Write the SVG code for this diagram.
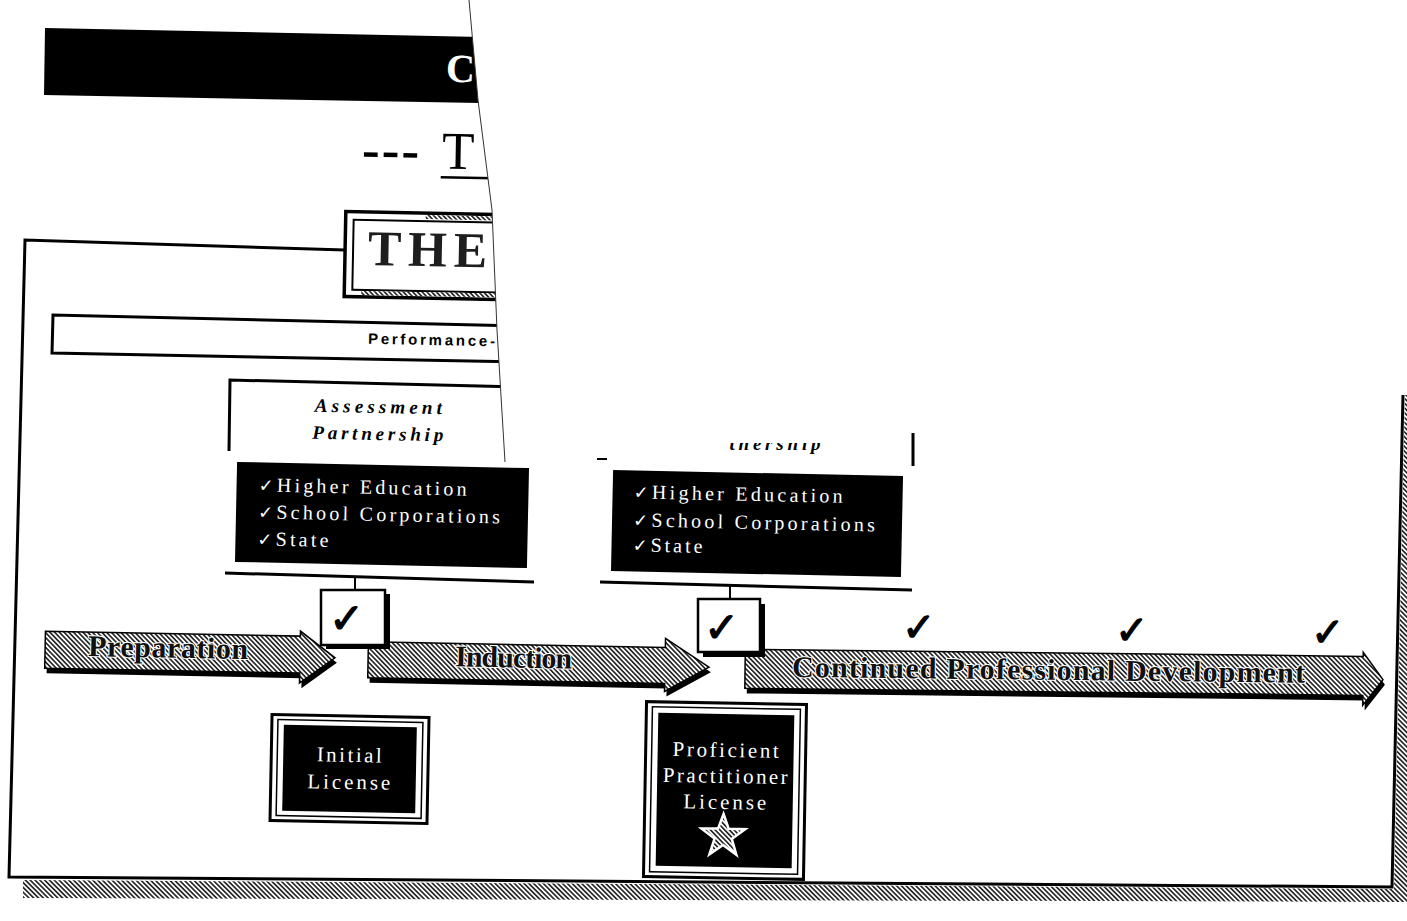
<svg xmlns="http://www.w3.org/2000/svg" width="1407" height="921" viewBox="0 0 1407 921">
<defs>
<style>
.ser{font-family:"Liberation Serif","Times New Roman",serif}
.sans{font-family:"Liberation Sans",Arial,sans-serif}
.ck{font-family:"DejaVu Sans",sans-serif}
.bigck{font-family:"DejaVu Sans",sans-serif;fill:#000;stroke:#000;stroke-width:1.2}
.ln{fill:none;stroke:#000;stroke-width:3}
.arrowtxt{font-family:"Liberation Serif","Times New Roman",serif;font-weight:bold;font-size:30px;fill:#111;stroke:#fff;stroke-width:2;paint-order:stroke}
.list{font-family:"Liberation Serif","Times New Roman",serif;font-size:20px;fill:#fff}
.lic{font-family:"Liberation Serif","Times New Roman",serif;font-size:21px;fill:#fff;text-anchor:middle}
.shadow{fill:#000}
.face{fill:url(#hatch);stroke:#000;stroke-width:1.5}
</style>
<pattern id="hatch" width="3.4" height="3.4" patternUnits="userSpaceOnUse" patternTransform="rotate(-45)"><rect width="3.4" height="3.4" fill="#fff"/><rect width="1.7" height="3.4" fill="#2a2a2a"/></pattern>
<clipPath id="vis"><polygon points="0,0 469,0 478,100 492,210 497,330 505,458 1407,392 1407,921 0,921"/></clipPath>
<clipPath id="frag"><rect x="726" y="443" width="110" height="20"/></clipPath>
</defs>
<rect width="1407" height="921" fill="#fff"/>
<g clip-path="url(#vis)">
  <g id="frame">
    <polygon points="23,880 1394,889 1405,395 1407,395 1407,902 23,898" fill="url(#hatch)"/>
    <path class="ln" d="M345,250 L25,240 L9,877 L1392,887 L1403,395" stroke-width="3.5"/>
  </g>
  <g id="title-bar">
    <polygon points="45,28 530,38 531,104 44,95" fill="#000"/>
    <text class="ser" x="446" y="82" font-size="40" font-weight="bold" fill="#fff" transform="rotate(1.2 460 70)">C</text>
  </g>
  <g id="subtitle" transform="rotate(1 420 160)">
    <text class="ser" x="362" y="168" font-size="53"><tspan font-weight="bold" letter-spacing="2">---</tspan><tspan x="442">T</tspan></text>
    <line x1="441" y1="177" x2="520" y2="177" stroke="#000" stroke-width="2.5"/>
  </g>
  <g id="the-box" transform="rotate(1.1 420 255)">
    <rect x="345" y="213" width="230" height="85" fill="#fff" stroke="#000" stroke-width="3.5"/>
    <rect x="353" y="221" width="215" height="70" fill="none" stroke="#000" stroke-width="2"/>
    <rect x="425" y="215" width="70" height="4" fill="url(#hatch)"/>
    <rect x="362" y="292" width="140" height="4" fill="url(#hatch)"/>
    <text class="ser" x="368" y="266" font-size="50" font-weight="bold" fill="#1e1e1e" textLength="119">THE</text>
  </g>
  <g id="performance-bar">
    <path class="ln" d="M520,326 L53,315 L52,353 L520,362" stroke-width="2.5"/>
    <text class="sans" x="368" y="345" font-size="15" font-weight="bold" textLength="127" transform="rotate(1.1 430 340)">Performance-</text>
  </g>
  <g id="assessment-1">
    <path class="ln" d="M229,451 L230,380 L520,387" stroke-width="2.5"/>
    <g transform="rotate(1.1 378 425)" class="ser" font-weight="bold" font-style="italic" font-size="19" text-anchor="middle">
      <text x="378" y="413" textLength="127">Assessment</text>
      <text x="378" y="440" textLength="131">Partnership</text>
    </g>
  </g>
  <g id="assessment-2">
    <line x1="597" y1="459" x2="607" y2="459" stroke="#000" stroke-width="2"/>
    <line x1="913" y1="433" x2="913" y2="466" stroke="#000" stroke-width="3"/>
    <text class="ser" x="755" y="450" font-size="19" font-weight="bold" font-style="italic" text-anchor="middle" textLength="131" clip-path="url(#frag)">Partnership</text>
  </g>
  <g id="list-1" transform="rotate(1.2 382 515)">
    <rect x="236" y="465" width="292" height="100" fill="#000"/>
    <text class="list" x="258" y="494" textLength="208"><tspan class="ck" font-size="18">✓</tspan>Higher Education</text>
    <text class="list" x="258" y="521" textLength="242"><tspan class="ck" font-size="18">✓</tspan>School Corporations</text>
    <text class="list" x="258" y="548" textLength="71"><tspan class="ck" font-size="18">✓</tspan>State</text>
  </g>
  <g id="list-2" transform="rotate(1.2 757 524)">
    <rect x="612" y="473" width="290" height="101" fill="#000"/>
    <text class="list" x="633" y="501" textLength="209"><tspan class="ck" font-size="18">✓</tspan>Higher Education</text>
    <text class="list" x="633" y="529" textLength="242"><tspan class="ck" font-size="18">✓</tspan>School Corporations</text>
    <text class="list" x="633" y="554" textLength="70"><tspan class="ck" font-size="18">✓</tspan>State</text>
  </g>
  <g id="connectors">
    <line class="ln" x1="225" y1="573" x2="534" y2="582"/>
    <line x1="355" y1="578" x2="355" y2="591" stroke="#000" stroke-width="2"/>
    <line class="ln" x1="600" y1="582" x2="912" y2="590"/>
    <line x1="730" y1="586" x2="730" y2="600" stroke="#000" stroke-width="2"/>
  </g>
  <g id="arrow-preparation" transform="rotate(1.1 190 655)">
    <polygon class="shadow" points="47,639 302,639 302,634 337,660 302,686 302,676 47,676"/>
    <polygon class="face" points="45,634 300,634 300,629 335,655 300,681 300,671 45,671"/>
    <text class="arrowtxt" x="88" y="658" textLength="160">Preparation</text>
  </g>
  <g id="arrow-induction" transform="rotate(1.1 540 665)">
    <polygon class="shadow" points="370,650 667,650 667,641 711,669 667,694 667,686 370,686"/>
    <polygon class="face" points="368,645 665,645 665,636 709,664 665,689 665,681 368,681"/>
    <text class="arrowtxt" x="455" y="668" textLength="117">Induction</text>
  </g>
  <g id="arrow-cpd" transform="rotate(0.65 1065 675)">
    <polygon class="shadow" points="747,658 1365,658 1365,654 1385,681 1365,707 1365,697 747,697"/>
    <polygon class="face" points="745,653 1363,653 1363,649 1383,676 1363,702 1363,692 745,692"/>
    <text class="arrowtxt" x="792" y="680" textLength="513">Continued Professional Development</text>
  </g>
  <g id="check-box-1">
    <rect x="326" y="594" width="64" height="55" fill="#000"/>
    <rect x="321" y="590" width="64" height="55" fill="#fff" stroke="#000" stroke-width="2.5"/>
    <text class="bigck" x="329" y="633" font-size="42">✓</text>
  </g>
  <g id="check-box-2">
    <rect x="703" y="604" width="62" height="53" fill="#000"/>
    <rect x="698" y="599" width="62" height="53" fill="#fff" stroke="#000" stroke-width="2.5"/>
    <text class="bigck" x="704" y="642" font-size="42">✓</text>
  </g>
  <g id="checks">
    <text class="bigck" x="902" y="641" font-size="40">✓</text>
    <text class="bigck" x="1115" y="644" font-size="40">✓</text>
    <text class="bigck" x="1311" y="646" font-size="40">✓</text>
  </g>
  <g id="initial-license" transform="rotate(1.1 350 770)">
    <rect x="271" y="716" width="157" height="106" fill="#fff" stroke="#000" stroke-width="3"/>
    <rect x="277" y="721" width="145" height="96" fill="none" stroke="#000" stroke-width="1.5"/>
    <rect x="283" y="726" width="133" height="86" fill="#000"/>
    <text class="lic" x="349" y="762" textLength="65">Initial</text>
    <text class="lic" x="349" y="789" textLength="83">License</text>
  </g>
  <g id="proficient-license" transform="rotate(1 725 790)">
    <rect x="645" y="703" width="160" height="175" fill="#fff" stroke="#000" stroke-width="3"/>
    <rect x="651" y="708" width="148" height="165" fill="none" stroke="#000" stroke-width="1.5"/>
    <rect x="657" y="714" width="136" height="153" fill="#000"/>
    <text class="lic" x="725" y="757" textLength="106">Proficient</text>
    <text class="lic" x="725" y="783" textLength="125">Practitioner</text>
    <text class="lic" x="725" y="809" textLength="83">License</text>
    <polygon points="724,814 729.3,828.7 745.9,828.9 732.6,838.8 737.5,854.6 724,845 710.5,854.6 715.4,838.8 702.1,828.9 718.7,828.7" fill="url(#hatch)" stroke="#fff" stroke-width="2.5"/>
  </g>
</g>
<polyline points="469,0 478,100 492,210 497,330 505,462" fill="none" stroke="#333" stroke-width="1"/>
</svg>
